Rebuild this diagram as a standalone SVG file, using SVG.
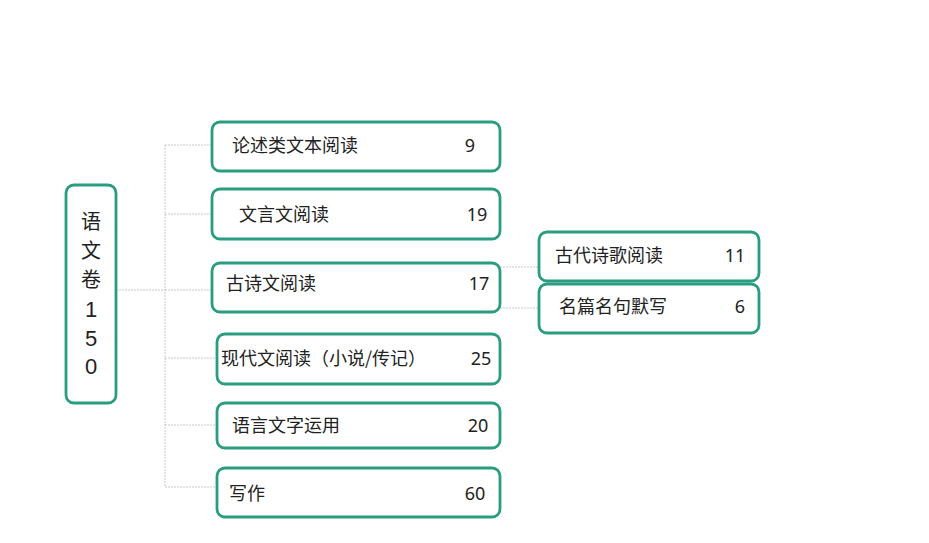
<svg xmlns="http://www.w3.org/2000/svg" width="929" height="543" viewBox="0 0 929 543">
<style>
.box{fill:#fff;stroke:#2a9d80;stroke-width:2.8}
.t{font-family:"Noto Sans CJK SC","Noto Sans",sans-serif;font-size:18px;fill:#222}
.n{font-family:"Noto Sans","Noto Sans CJK SC",sans-serif;font-size:18px;fill:#222;text-anchor:middle}
.r{font-family:"Noto Sans CJK SC","Noto Sans",sans-serif;font-size:20px;fill:#222;text-anchor:middle}
.d{font-family:"Liberation Sans",Arial,sans-serif;font-size:22px;fill:#222;text-anchor:middle}
.c{fill:none;stroke:#c8c8c8;stroke-width:1;stroke-dasharray:2 1}
</style>
<rect width="929" height="543" fill="#fff"/>
<g id="connectors">
<path class="c" d="M116 290H165M165 145V487M165 145H212M165 214H212M165 290H212M165 358H217M165 425H217M165 487H217"/>
<path class="c" d="M500 267H539M500 308H539"/>
</g>
<g id="root">
<rect class="box" x="66" y="185" width="50" height="218" rx="8"/>
<text class="r" x="91" y="229">语</text>
<text class="r" x="91" y="258">文</text>
<text class="r" x="91" y="287">卷</text>
<text class="d" x="91" y="317">1</text>
<text class="d" x="91" y="346">5</text>
<text class="d" x="91" y="374">0</text>
</g>
<g id="n1">
<rect class="box" x="212" y="122" width="288" height="49" rx="8"/>
<text class="t" x="232" y="152">论述类文本阅读</text>
<text class="n" x="470" y="152">9</text>
</g>
<g id="n2">
<rect class="box" x="212" y="189" width="288" height="50" rx="8"/>
<text class="t" x="239" y="221">文言文阅读</text>
<text class="n" x="477" y="221">19</text>
</g>
<g id="n3">
<rect class="box" x="212" y="263" width="288" height="49" rx="8"/>
<text class="t" x="226" y="290">古诗文阅读</text>
<text class="n" x="479" y="290">17</text>
</g>
<g id="n4">
<rect class="box" x="217" y="334" width="283" height="50" rx="8"/>
<text class="t" x="221" y="365">现代文阅读（小说/传记）</text>
<text class="n" x="481" y="365">25</text>
</g>
<g id="n5">
<rect class="box" x="217" y="403" width="283" height="45" rx="8"/>
<text class="t" x="232" y="432">语言文字运用</text>
<text class="n" x="478" y="432">20</text>
</g>
<g id="n6">
<rect class="box" x="217" y="468" width="283" height="49" rx="8"/>
<text class="t" x="229" y="500">写作</text>
<text class="n" x="475" y="500">60</text>
</g>
<g id="n7">
<rect class="box" x="539" y="232" width="220" height="49" rx="8"/>
<text class="t" x="555" y="262">古代诗歌阅读</text>
<text class="n" x="735" y="262">11</text>
</g>
<g id="n8">
<rect class="box" x="539" y="284" width="220" height="49" rx="8"/>
<text class="t" x="559" y="313">名篇名句默写</text>
<text class="n" x="740" y="313">6</text>
</g>
</svg>
